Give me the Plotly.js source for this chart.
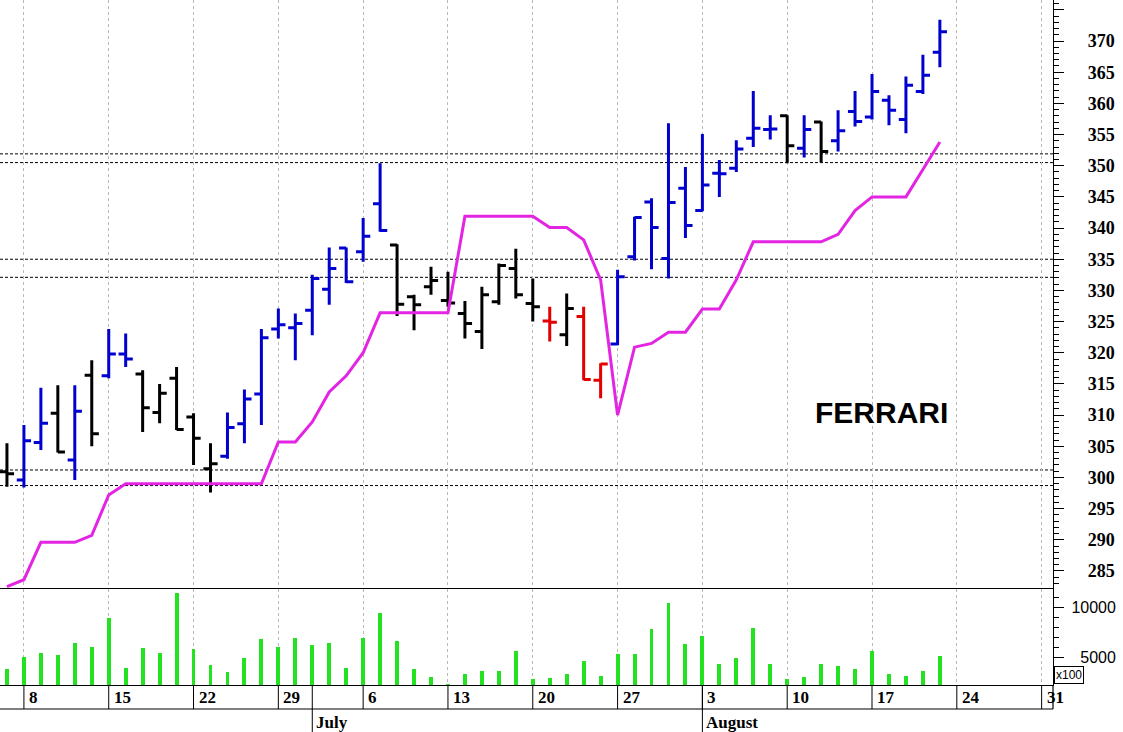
<!DOCTYPE html>
<html>
<head>
<meta charset="utf-8">
<script src="https://cdn.plot.ly/plotly-3.0.1.min.js"></script>
<style>
html,body{margin:0;padding:0;background:#ffffff;}
#chart{width:1123px;height:732px;}
</style>
</head>
<body>
<div id="chart"></div>
<script>
// ---------- data ----------
const tradingDays = [
  '2020-06-05','2020-06-08','2020-06-09','2020-06-10','2020-06-11','2020-06-12',
  '2020-06-15','2020-06-16','2020-06-17','2020-06-18','2020-06-19',
  '2020-06-22','2020-06-23','2020-06-24','2020-06-25','2020-06-26',
  '2020-06-29','2020-06-30','2020-07-01','2020-07-02','2020-07-03',
  '2020-07-06','2020-07-07','2020-07-08','2020-07-09','2020-07-10',
  '2020-07-13','2020-07-14','2020-07-15','2020-07-16','2020-07-17',
  '2020-07-20','2020-07-21','2020-07-22','2020-07-23','2020-07-24',
  '2020-07-27','2020-07-28','2020-07-29','2020-07-30','2020-07-31',
  '2020-08-03','2020-08-04','2020-08-05','2020-08-06','2020-08-07',
  '2020-08-10','2020-08-11','2020-08-12','2020-08-13','2020-08-14',
  '2020-08-17','2020-08-18','2020-08-19','2020-08-20','2020-08-21'
];
const openPrices = [300.9,299.6,305.6,310.3,302.8,316.4,316.3,319.8,316.6,310.4,
  315.9,309.7,301.4,303.4,308.6,313.4,323.8,324.0,326.8,330.2,
  336.8,336.2,343.9,337.3,329.0,330.6,328.4,326.3,323.4,328.2,
  333.5,327.9,325.1,322.9,325.8,315.6,321.4,335.4,344.2,335.1,
  346.4,342.8,348.8,349.6,354.4,355.8,358.0,352.8,357.0,354.0,
  358.7,357.8,360.5,357.4,361.9,368.2];
const highPrices = [305.5,308.4,314.4,314.8,314.8,318.8,323.8,323.1,317.2,315.0,
  317.7,310.3,305.5,310.4,314.1,323.8,327.1,326.3,332.5,336.9,
  336.9,341.6,350.4,337.4,329.3,333.8,333.0,328.3,330.6,334.3,
  336.7,331.9,327.4,329.5,327.4,318.3,333.3,341.8,344.8,356.8,
  349.8,355.1,350.9,354.1,362.0,358.1,358.1,358.1,357.1,358.9,
  362.0,364.7,361.3,364.3,367.8,373.4];
const lowPrices = [298.5,298.4,304.4,304.0,299.6,305.0,315.9,317.7,307.3,308.7,
  307.6,302.0,297.6,303.0,305.5,308.4,322.3,318.8,322.8,327.7,
  331.2,334.6,339.4,325.9,323.6,329.3,327.4,322.3,320.6,327.7,
  328.7,325.0,321.8,321.1,315.6,312.7,321.2,334.8,333.4,331.9,
  338.4,342.7,345.0,349.0,353.0,354.2,350.4,351.3,350.5,352.3,
  356.3,357.4,356.5,355.2,361.5,365.8];
const closePrices = [300.6,305.9,308.7,304.1,310.6,307.0,319.8,319.0,311.2,313.5,
  307.7,306.3,302.2,308.0,312.6,322.4,324.5,324.7,331.9,333.5,
  331.4,338.7,339.6,327.8,327.7,331.6,328.0,324.7,329.3,334.0,
  329.3,327.4,324.9,327.1,315.7,318.2,332.2,341.7,340.1,344.1,
  340.4,346.9,348.7,352.7,356.0,355.9,353.2,355.8,352.3,355.6,
  357.1,361.9,358.9,362.9,364.5,371.5];
// bar colour class: b = blue, k = black, r = red
const barTone = ['k','b','b','k','b','k','b','b','k','k',
  'k','k','k','b','b','b','b','b','b','b',
  'b','b','b','k','k','k','k','k','k','k',
  'k','k','r','k','r','r','b','b','b','b',
  'b','b','b','b','b','b','k','b','k','b',
  'b','b','b','b','b','b'];
const volumes = [3770,5030,5370,5170,6370,6030,8870,3900,5870,5370,
  11370,5800,4170,3470,4900,6770,6030,6870,6170,6370,
  3870,6870,9370,6630,3770,3030,2350,3300,3630,3630,
  5630,2770,2900,3300,4630,3130,5300,5300,7770,10430,
  6270,7130,4300,4870,7870,4300,2770,3030,4300,4130,
  3770,5600,3270,3130,3630,5130];
const stopLine = [282.5,283.6,289.6,289.6,289.6,290.7,297.2,299.0,299.0,299.0,
  299.0,299.0,299.0,299.0,299.0,299.0,305.7,305.7,308.9,313.7,
  316.3,320.0,326.4,326.4,326.4,326.4,326.4,341.9,341.9,341.9,
  341.9,341.9,340.1,340.1,338.1,331.7,310.0,320.9,321.5,323.3,
  323.3,327.0,327.0,331.7,337.8,337.8,337.8,337.8,337.8,339.0,
  342.8,345.0,345.0,345.0,349.4,353.8];
const levelLines = [351.9, 350.5, 335.0, 332.1, 301.2, 298.7];
const weekStarts = ['2020-06-08','2020-06-15','2020-06-22','2020-06-29','2020-07-06','2020-07-13',
  '2020-07-20','2020-07-27','2020-08-03','2020-08-10','2020-08-17','2020-08-24','2020-08-31'];
const weekLabels = ['8','15','22','29','6','13','20','27','3','10','17','24','31'];
const monthStarts = ['2020-07-01','2020-08-03'];
const monthLabels = ['July','August'];
const priceTicks = [285,290,295,300,305,310,315,320,325,330,335,340,345,350,355,360,365,370,375];
const priceTickText = ['285','290','295','300','305','310','315','320','325','330','335','340','345','350','355','360','365','370',''];
const volumeTicks = [5000,10000];
const volumeTickText = ['\u20075000','10000'];
const chartTitle = 'FERRARI';
const volumeUnit = 'x100';

// ---------- build ----------
const mid = d => d + ' 12:00';
const xs = tradingDays.map(mid);
const toneColor = {b:'#0000cf', k:'#000000', r:'#e40000'};

const traces = [];
['k','b','r'].forEach(t => {
  const pick = arr => arr.map((v,i) => barTone[i] === t ? v : null);
  traces.push({
    type:'ohlc', x:xs, open:pick(openPrices), high:pick(highPrices),
    low:pick(lowPrices), close:pick(closePrices),
    xaxis:'x', yaxis:'y', tickwidth:0.42, hoverinfo:'skip',
    increasing:{line:{color:toneColor[t], width:3}},
    decreasing:{line:{color:toneColor[t], width:3}}
  });
});
traces.push({
  type:'scatter', mode:'lines', x:xs, y:stopLine, xaxis:'x', yaxis:'y',
  line:{color:'#e324e3', width:3}, hoverinfo:'skip'
});
traces.push({
  type:'bar', x:xs, y:volumes, xaxis:'x', yaxis:'y2',
  marker:{color:'#22e222', line:{width:0}}, width:0.23*86400000, hoverinfo:'skip'
});

const plotH = 685;
const splitY = (685 - 588.5) / plotH;
const rowY = -24 / plotH;
const bottomY = -47 / plotH;

const shapes = [];
levelLines.forEach(v => shapes.push({
  type:'line', xref:'paper', yref:'y', x0:0, x1:1, y0:v, y1:v, layer:'between',
  line:{color:'#000000', width:1, dash:'3px,2px'}
}));
shapes.push({type:'line', xref:'paper', yref:'paper', x0:0, x1:1, y0:splitY, y1:splitY,
  line:{color:'#000000', width:1.2}});
shapes.push({type:'line', xref:'paper', yref:'paper', x0:0, x1:1, y0:rowY, y1:rowY,
  line:{color:'#000000', width:1.2}});
shapes.push({type:'line', xref:'paper', yref:'paper', x0:1, x1:1, y0:0, y1:rowY,
  line:{color:'#000000', width:1.2}});
weekStarts.forEach(d => shapes.push({
  type:'line', xref:'x', yref:'paper', x0:mid(d), x1:mid(d), y0:0, y1:rowY,
  line:{color:'#000000', width:1}
}));
monthStarts.forEach(d => shapes.push({
  type:'line', xref:'x', yref:'paper', x0:mid(d), x1:mid(d), y0:0, y1:bottomY,
  line:{color:'#000000', width:1}
}));

const annotations = [];
weekStarts.forEach((d,i) => annotations.push({
  x:mid(d), xref:'x', y:-12.3/plotH, yref:'paper', text:weekLabels[i],
  showarrow:false, xanchor:'left', yanchor:'middle', xshift:3,
  font:{family:'Liberation Serif', size:17, color:'#000', weight:'bold'}
}));
monthStarts.forEach((d,i) => annotations.push({
  x:mid(d), xref:'x', y:-37.5/plotH, yref:'paper', text:monthLabels[i],
  showarrow:false, xanchor:'left', yanchor:'middle', xshift:2,
  font:{family:'Liberation Serif', size:17, color:'#000', weight:'bold'}
}));
annotations.push({
  x:881/1053, xref:'paper', y:(685-412)/plotH, yref:'paper', text:chartTitle,
  showarrow:false, xanchor:'center', yanchor:'middle',
  font:{family:'Liberation Sans', size:30, color:'#000', weight:'bold'}
});
annotations.push({
  x:1, xref:'paper', y:(685-675)/plotH, yref:'paper', text:volumeUnit,
  showarrow:false, xanchor:'left', yanchor:'middle', xshift:1,
  bgcolor:'#ffffff', bordercolor:'#000000', borderwidth:1, borderpad:1,
  font:{family:'Liberation Sans', size:12, color:'#000'}
});

const layout = {
  width:1123, height:732,
  margin:{l:0, r:70, t:0, b:47, pad:0},
  paper_bgcolor:'#ffffff', plot_bgcolor:'#ffffff',
  showlegend:false, bargap:0,
  font:{family:'Liberation Serif', color:'#000'},
  xaxis:{
    type:'date', anchor:'y2',
    range:['2020-06-05 02:10','2020-09-01 04:05'],
    rangebreaks:[{bounds:['sat','mon']}],
    rangeslider:{visible:false},
    tickmode:'array', tickvals:weekStarts.map(mid), showticklabels:false, ticks:'',
    showgrid:true, gridcolor:'#b8b8b8', gridwidth:1, griddash:'3px,3px',
    showline:true, linecolor:'#000', linewidth:1.2, zeroline:false, fixedrange:true
  },
  yaxis:{
    domain:[splitY,1], anchor:'x', side:'right',
    range:[282.19,376.58],
    tickmode:'array', tickvals:priceTicks, ticktext:priceTickText,
    ticks:'outside', ticklen:10, tickwidth:1, tickcolor:'#000',
    minor:{tickmode:'linear', tick0:0, dtick:1, ticks:'outside', ticklen:5, tickcolor:'#000', showgrid:false},
    showgrid:false, zeroline:false, showline:true, linecolor:'#000', linewidth:1.2,
    ticklabelstandoff:20,
    tickfont:{family:'Liberation Serif', size:18, color:'#000', weight:'bold'}
  },
  yaxis2:{
    domain:[0,splitY], anchor:'x', side:'right',
    range:[2200,11850],
    tickmode:'array', tickvals:volumeTicks, ticktext:volumeTickText,
    ticks:'outside', ticklen:10, tickwidth:1, tickcolor:'#000',
    minor:{tickmode:'linear', tick0:0, dtick:1000, ticks:'outside', ticklen:5, tickcolor:'#000', showgrid:false},
    showgrid:false, zeroline:false, showline:true, linecolor:'#000', linewidth:1.2,
    ticklabelstandoff:4,
    tickfont:{family:'Liberation Sans', size:16, color:'#000'}
  },
  shapes:shapes,
  annotations:annotations
};

Plotly.newPlot('chart', traces, layout, {displayModeBar:false, staticPlot:true});
</script>
</body>
</html>
